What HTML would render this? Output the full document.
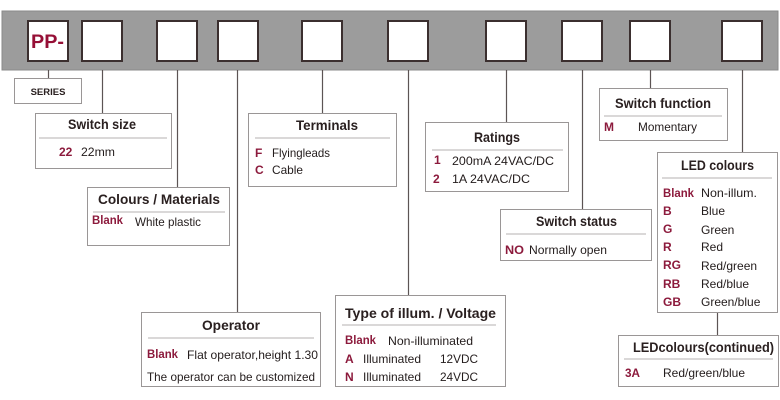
<!DOCTYPE html>
<html><head><meta charset="utf-8"><style>
html,body{margin:0;padding:0;background:#fff;}
svg{display:block;}
text{font-family:"Liberation Sans",sans-serif;}
.t{font-size:14px;font-weight:bold;fill:#2a2020;}
.b{font-size:12px;fill:#231c1c;}
.c{font-size:12px;font-weight:bold;fill:#8c1a3c;}
.box{fill:#fff;stroke:#9a9696;stroke-width:1;}
.sep{stroke:#c4c0c0;stroke-width:1.3;}
.ln{stroke:#5c5454;stroke-width:1.2;}
.sq{fill:#fff;stroke:#3b2f2f;stroke-width:2;}
</style></head><body>
<svg width="780" height="400" viewBox="0 0 780 400" xmlns="http://www.w3.org/2000/svg">
<rect x="2" y="11" width="776" height="59" fill="#9c9c9c" stroke="#8a8a8a" stroke-width="1"/>
<rect class="sq" x="28" y="21" width="40" height="40"/>
<rect class="sq" x="82" y="21" width="40" height="40"/>
<rect class="sq" x="157" y="21" width="40" height="40"/>
<rect class="sq" x="218" y="21" width="40" height="40"/>
<rect class="sq" x="302" y="21" width="40" height="40"/>
<rect class="sq" x="388" y="21" width="40" height="40"/>
<rect class="sq" x="486" y="21" width="40" height="40"/>
<rect class="sq" x="562" y="21" width="40" height="40"/>
<rect class="sq" x="630" y="21" width="40" height="40"/>
<rect class="sq" x="722" y="21" width="40" height="40"/>
<text x="31" y="48" font-size="19" font-weight="bold" fill="#960f36" textLength="33" lengthAdjust="spacingAndGlyphs">PP-</text>

<line class="ln" x1="48.5" y1="70" x2="48.5" y2="78"/>
<line class="ln" x1="102.5" y1="70" x2="102.5" y2="113"/>
<line class="ln" x1="177.5" y1="70" x2="177.5" y2="187"/>
<line class="ln" x1="237.5" y1="70" x2="237.5" y2="312"/>
<line class="ln" x1="322.5" y1="70" x2="322.5" y2="113"/>
<line class="ln" x1="408.5" y1="70" x2="408.5" y2="295"/>
<line class="ln" x1="506.5" y1="70" x2="506.5" y2="122"/>
<line class="ln" x1="582.5" y1="70" x2="582.5" y2="209"/>
<line class="ln" x1="650.5" y1="70" x2="650.5" y2="88"/>
<line class="ln" x1="742.5" y1="70" x2="742.5" y2="152"/>
<line class="ln" x1="717.5" y1="313" x2="717.5" y2="335"/>

<!-- SERIES -->
<rect class="box" x="14.5" y="78.5" width="67" height="25"/>
<text x="48" y="95" text-anchor="middle" font-size="9.5" font-weight="bold" fill="#2a2020">SERIES</text>

<!-- Switch size -->
<rect class="box" x="35.5" y="113.5" width="136" height="55"/>
<text class="t" x="68" y="129" textLength="68" lengthAdjust="spacingAndGlyphs">Switch size</text>
<line class="sep" x1="39" y1="138" x2="167" y2="138" stroke-width="2"/>
<text class="c" x="59" y="156">22</text>
<text class="b" x="81" y="156" textLength="34" lengthAdjust="spacingAndGlyphs">22mm</text>

<!-- Colours / Materials -->
<rect class="box" x="87.5" y="187.5" width="142" height="58"/>
<text class="t" x="98" y="204" textLength="122" lengthAdjust="spacingAndGlyphs">Colours / Materials</text>
<line class="sep" x1="93" y1="212" x2="225" y2="212"/>
<text class="c" x="92" y="224" textLength="31" lengthAdjust="spacingAndGlyphs">Blank</text>
<text class="b" x="135" y="226" textLength="66" lengthAdjust="spacingAndGlyphs">White plastic</text>

<!-- Terminals -->
<rect class="box" x="248.5" y="113.5" width="148" height="73"/>
<text class="t" x="296" y="130" textLength="62" lengthAdjust="spacingAndGlyphs">Terminals</text>
<line class="sep" x1="255" y1="138" x2="390" y2="138"/>
<text class="c" x="255" y="157">F</text>
<text class="b" x="272" y="157" textLength="58" lengthAdjust="spacingAndGlyphs">Flyingleads</text>
<text class="c" x="255" y="174">C</text>
<text class="b" x="272" y="174" textLength="31" lengthAdjust="spacingAndGlyphs">Cable</text>

<!-- Ratings -->
<rect class="box" x="425.5" y="122.5" width="143" height="69"/>
<text class="t" x="474" y="142" textLength="46" lengthAdjust="spacingAndGlyphs">Ratings</text>
<line class="sep" x1="432" y1="150" x2="563" y2="150"/>
<text class="c" x="434" y="164">1</text>
<text class="b" x="452" y="165" textLength="102" lengthAdjust="spacingAndGlyphs">200mA 24VAC/DC</text>
<text class="c" x="433" y="183">2</text>
<text class="b" x="452" y="183" textLength="78" lengthAdjust="spacingAndGlyphs">1A 24VAC/DC</text>

<!-- Switch status -->
<rect class="box" x="500.5" y="209.5" width="151" height="51"/>
<text class="t" x="536" y="226" textLength="81" lengthAdjust="spacingAndGlyphs">Switch status</text>
<line class="sep" x1="506" y1="234" x2="646" y2="234"/>
<text class="c" x="505" y="254" textLength="19" lengthAdjust="spacingAndGlyphs">NO</text>
<text class="b" x="529" y="254" textLength="78" lengthAdjust="spacingAndGlyphs">Normally open</text>

<!-- Switch function -->
<rect class="box" x="599.5" y="88.5" width="128" height="52"/>
<text class="t" x="615" y="108" textLength="96" lengthAdjust="spacingAndGlyphs">Switch function</text>
<line class="sep" x1="604" y1="116" x2="722" y2="116"/>
<text class="c" x="604" y="131">M</text>
<text class="b" x="638" y="131" textLength="59" lengthAdjust="spacingAndGlyphs">Momentary</text>

<!-- LED colours -->
<rect class="box" x="657.5" y="152.5" width="120" height="160"/>
<text class="t" x="681" y="170" textLength="73" lengthAdjust="spacingAndGlyphs">LED colours</text>
<line class="sep" x1="662" y1="178" x2="772" y2="178"/>
<text class="c" x="663" y="197" textLength="31" lengthAdjust="spacingAndGlyphs">Blank</text>
<text class="b" x="701" y="197" textLength="56" lengthAdjust="spacingAndGlyphs">Non-illum.</text>
<text class="c" x="663" y="215">B</text>
<text class="b" x="701" y="215">Blue</text>
<text class="c" x="663" y="233">G</text>
<text class="b" x="701" y="234">Green</text>
<text class="c" x="663" y="251">R</text>
<text class="b" x="701" y="251">Red</text>
<text class="c" x="663" y="269">RG</text>
<text class="b" x="701" y="270">Red/green</text>
<text class="c" x="663" y="288">RB</text>
<text class="b" x="701" y="288">Red/blue</text>
<text class="c" x="663" y="306">GB</text>
<text class="b" x="701" y="306">Green/blue</text>

<!-- LED colours continued -->
<rect class="box" x="618.5" y="335.5" width="160" height="51"/>
<text class="t" x="633" y="352" textLength="141" lengthAdjust="spacingAndGlyphs">LEDcolours(continued)</text>
<line class="sep" x1="624" y1="359" x2="773" y2="359"/>
<text class="c" x="625" y="377" textLength="15" lengthAdjust="spacingAndGlyphs">3A</text>
<text class="b" x="663" y="377" textLength="82" lengthAdjust="spacingAndGlyphs">Red/green/blue</text>

<!-- Operator -->
<rect class="box" x="141.5" y="312.5" width="179" height="74"/>
<text class="t" x="202" y="330" textLength="58" lengthAdjust="spacingAndGlyphs">Operator</text>
<line class="sep" x1="148" y1="338" x2="314" y2="338"/>
<text class="c" x="147" y="358" textLength="31" lengthAdjust="spacingAndGlyphs">Blank</text>
<text class="b" x="187" y="359" textLength="131" lengthAdjust="spacingAndGlyphs">Flat operator,height 1.30</text>
<text class="b" x="147" y="381" textLength="168" lengthAdjust="spacingAndGlyphs">The operator can be customized</text>

<!-- Type of illum -->
<rect class="box" x="335.5" y="295.5" width="170" height="91"/>
<text class="t" x="345" y="318" textLength="151" lengthAdjust="spacingAndGlyphs">Type of illum. / Voltage</text>
<line class="sep" x1="342" y1="325" x2="496" y2="325"/>
<text class="c" x="345" y="344" textLength="31" lengthAdjust="spacingAndGlyphs">Blank</text>
<text class="b" x="388" y="345" textLength="85" lengthAdjust="spacingAndGlyphs">Non-illuminated</text>
<text class="c" x="345" y="363">A</text>
<text class="b" x="363" y="363" textLength="58" lengthAdjust="spacingAndGlyphs">Illuminated</text>
<text class="b" x="440" y="363" textLength="38" lengthAdjust="spacingAndGlyphs">12VDC</text>
<text class="c" x="345" y="381">N</text>
<text class="b" x="363" y="381" textLength="58" lengthAdjust="spacingAndGlyphs">Illuminated</text>
<text class="b" x="440" y="381" textLength="38" lengthAdjust="spacingAndGlyphs">24VDC</text>
</svg>
</body></html>
